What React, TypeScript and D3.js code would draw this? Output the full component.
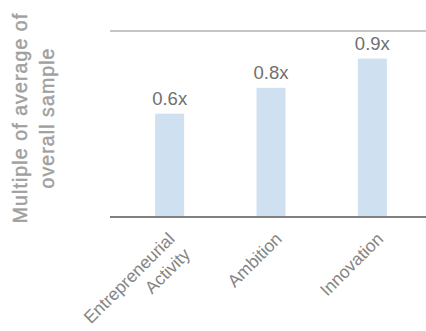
import React from "react";
import * as d3 from "d3";

const categories = ["Entrepreneurial Activity", "Ambition", "Innovation"];
const categoryLines = [["Entrepreneurial", "Activity"], ["Ambition"], ["Innovation"]];
const values = [0.6, 0.75, 0.92];
const valueLabels = ["0.6x", "0.8x", "0.9x"];
const yTitleLines = ["Multiple of average of", "overall sample"];

const W = 426;
const H = 331;
const FONT = "'Liberation Sans', Arial, Helvetica, sans-serif";

export default function App() {
  const x = d3
    .scaleBand<string>()
    .domain(categories)
    .range([119, 423])
    .paddingInner(0.714)
    .paddingOuter(0.357);
  const y = d3.scaleLinear().domain([0, 1.08]).range([217, 31]);
  const left = 110;

  return (
    <svg
      width={W}
      height={H}
      style={{ position: "absolute", left: 0, top: 0 }}
      fontFamily={FONT}
    >
      <rect width={W} height={H} fill="#fff" />
      {/* top reference line */}
      <line x1={left} x2={W} y1={y(1.08)} y2={y(1.08)} stroke="#8c8c8c" strokeWidth={1.2} />
      {categories.map((c, i) => (
        <rect
          key={c}
          x={x(c)}
          y={y(values[i])}
          width={x.bandwidth()}
          height={y(0) - y(values[i])}
          fill="#cfe0f1"
        />
      ))}
      {categories.map((c, i) => (
        <text
          key={"v" + c}
          x={(x(c) as number) + x.bandwidth() / 2}
          y={y(values[i]) - 9}
          textAnchor="middle"
          fontSize={18.5}
          fill="#707070"
        >
          {valueLabels[i]}
        </text>
      ))}
      {/* baseline */}
      <line x1={left} x2={W} y1={y(0)} y2={y(0)} stroke="#808080" strokeWidth={2} />
      {categories.map((c, i) => {
        const cx = (x(c) as number) + x.bandwidth() / 2;
        const n = categoryLines[i].length;
        return (
          <text
            key={"c" + c}
            transform={`translate(${cx + 12 - (n - 1) * 6},${y(0) + 23}) rotate(-45)`}
            textAnchor="end"
            fontSize={17.5}
            fill="#858585"
          >
            {categoryLines[i].map((l, j) => (
              <tspan key={j} x={0} dy={j === 0 ? 0 : 22}>
                {l}
              </tspan>
            ))}
          </text>
        );
      })}
      {yTitleLines.map((l, j) => (
        <text
          key={"t" + j}
          transform={`translate(${27 + j * 27},118) rotate(-90)`}
          textAnchor="middle"
          fontSize={19.5}
          letterSpacing={1.1}
          fill="#a0a0a0"
          stroke="#a0a0a0"
          strokeWidth={0.45}
        >
          {l}
        </text>
      ))}
    </svg>
  );
}
